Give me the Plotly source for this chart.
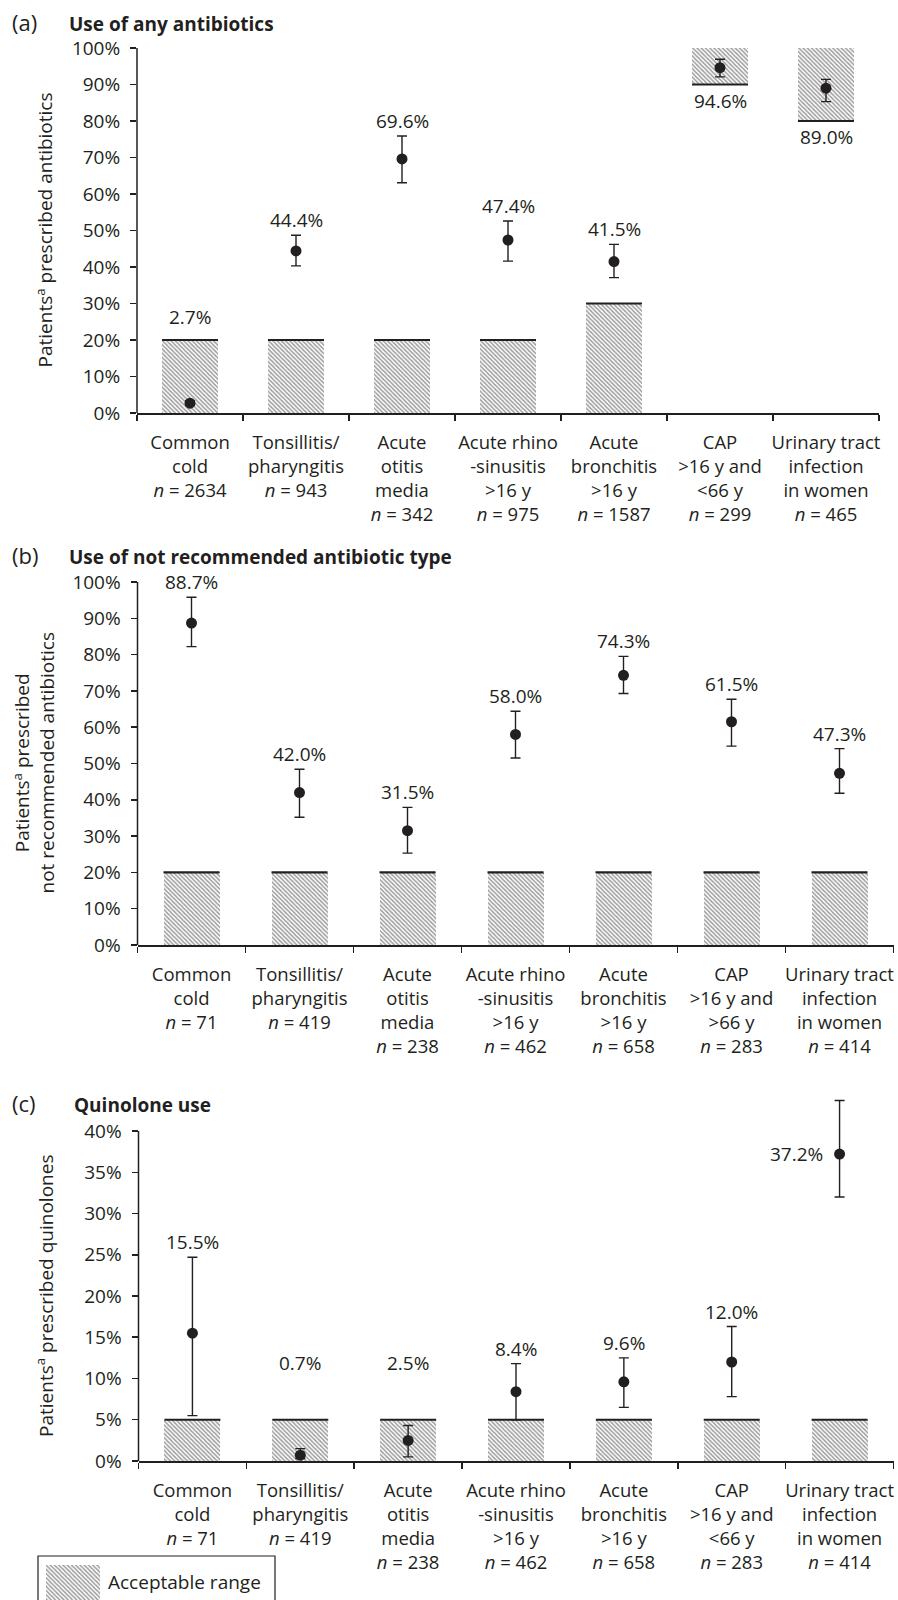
import plotly.graph_objects as go

# ---------------- data ----------------
categories_a = ["Common<br>cold", "Tonsillitis/<br>pharyngitis", "Acute<br>otitis<br>media",
                "Acute rhino<br>-sinusitis<br>&gt;16 y", "Acute<br>bronchitis<br>&gt;16 y",
                "CAP<br>&gt;16 y and<br>&lt;66 y", "Urinary tract<br>infection<br>in women"]
categories_b = ["Common<br>cold", "Tonsillitis/<br>pharyngitis", "Acute<br>otitis<br>media",
                "Acute rhino<br>-sinusitis<br>&gt;16 y", "Acute<br>bronchitis<br>&gt;16 y",
                "CAP<br>&gt;16 y and<br>&gt;66 y", "Urinary tract<br>infection<br>in women"]
categories_c = categories_a

n_a = [2634, 943, 342, 975, 1587, 299, 465]
n_b = [71, 419, 238, 462, 658, 283, 414]
n_c = [71, 419, 238, 462, 658, 283, 414]

# (a) use of any antibiotics
a_value = [2.7, 44.4, 69.6, 47.4, 41.5, 94.6, 89.0]
a_ci_low = [2.1, 40.3, 63.1, 41.6, 37.1, 92.1, 85.3]
a_ci_high = [3.4, 48.7, 75.9, 52.6, 46.2, 96.9, 91.4]
a_acc_low = [0, 0, 0, 0, 0, 90, 80]
a_acc_high = [20, 20, 20, 20, 30, 100, 100]

# (b) use of not recommended antibiotic type
b_value = [88.7, 42.0, 31.5, 58.0, 74.3, 61.5, 47.3]
b_ci_low = [82.2, 35.2, 25.3, 51.5, 69.3, 54.8, 41.8]
b_ci_high = [95.8, 48.4, 37.9, 64.4, 79.5, 67.7, 54.1]
b_acc_low = [0, 0, 0, 0, 0, 0, 0]
b_acc_high = [20, 20, 20, 20, 20, 20, 20]

# (c) quinolone use
c_value = [15.5, 0.7, 2.5, 8.4, 9.6, 12.0, 37.2]
c_ci_low = [5.5, 0.3, 0.5, 5.0, 6.5, 7.8, 32.0]
c_ci_high = [24.7, 1.5, 4.3, 11.8, 12.5, 16.3, 43.7]
c_acc_low = [0, 0, 0, 0, 0, 0, 0]
c_acc_high = [5, 5, 5, 5, 5, 5, 5]

panel_letters = ["(a)", "(b)", "(c)"]
panel_titles = ["Use of any antibiotics", "Use of not recommended antibiotic type", "Quinolone use"]
y_titles = ["Patients<sup>a</sup> prescribed antibiotics",
            "Patients<sup>a</sup> prescribed<br>not recommended antibiotics",
            "Patients<sup>a</sup> prescribed quinolones"]
y_max = [100, 100, 40]
y_step = [10, 10, 5]

# ---------------- style ----------------
INK = "#231f20"
FONT = "Open Sans"
W, H = 898, 1600
BAR_PX = 56
FS = 19
FS_X = 18.5


def px(x):
    return x / W


def py(y):
    return 1 - y / H


panel_xpx = [(137, 879), (137.5, 893.5), (138.5, 893.5)]
panel_px = [(48, 413), (582, 945), (1131, 1461)]
headroom = [0, 0, 4.5]   # data units above y_max kept visible (tall CI)
letter_y = [22, 555, 1103]
title_x = [67, 67, 72]
ytitle_x = [45, 34, 45]
inside_shift = [8, 6, 42]

panels = [
    (categories_a, n_a, a_value, a_ci_low, a_ci_high, a_acc_low, a_acc_high),
    (categories_b, n_b, b_value, b_ci_low, b_ci_high, b_acc_low, b_acc_high),
    (categories_c, n_c, c_value, c_ci_low, c_ci_high, c_acc_low, c_acc_high),
]

fig = go.Figure()
annotations = []
shapes = []
pattern = dict(shape="\\", fgcolor="#3a3a3a", bgcolor="white", size=3, solidity=0.5)

for p, (cats, ns, val, lo, hi, alo, ahi) in enumerate(panels):
    xa = "x" if p == 0 else f"x{p+1}"
    ya = "y" if p == 0 else f"y{p+1}"
    idx = list(range(len(cats)))
    left_px, right_px = panel_xpx[p]
    bar_w = BAR_PX / ((right_px - left_px) / len(cats))
    top_px, bot_px = panel_px[p]
    scale = (bot_px - top_px) / y_max[p]
    dom_top_px = top_px - headroom[p] * scale

    fig.add_trace(go.Bar(
        x=idx, y=[h - l for l, h in zip(alo, ahi)], base=alo, width=bar_w,
        marker=dict(color="white", pattern=pattern, line=dict(width=0)),
        xaxis=xa, yaxis=ya, showlegend=False, hoverinfo="skip"))

    lx, ly = [], []
    for j in idx:
        edge = ahi[j] if alo[j] == 0 else alo[j]
        lx += [j - bar_w / 2, j + bar_w / 2, None]
        ly += [edge, edge, None]
    fig.add_trace(go.Scatter(x=lx, y=ly, mode="lines", line=dict(color=INK, width=2.2),
                             xaxis=xa, yaxis=ya, showlegend=False, hoverinfo="skip"))

    fig.add_trace(go.Scatter(
        x=idx, y=val, mode="markers",
        marker=dict(color=INK, size=11),
        error_y=dict(type="data", symmetric=False,
                     array=[h - v for v, h in zip(val, hi)],
                     arrayminus=[v - l for v, l in zip(val, lo)],
                     color=INK, thickness=1.4, width=5),
        cliponaxis=False, xaxis=xa, yaxis=ya, showlegend=False))

    for j in idx:
        txt = f"{val[j]:.1f}%"
        fnt = dict(family=FONT, size=FS, color=INK)
        if alo[j] > 0:
            annotations.append(dict(x=j, y=alo[j], xref=xa, yref=ya, text=txt, showarrow=False,
                                    yanchor="top", yshift=-1, font=fnt))
        elif hi[j] > y_max[p]:
            annotations.append(dict(x=j, y=val[j], xref=xa, yref=ya, text=txt, showarrow=False,
                                    xanchor="right", xshift=-15, font=fnt))
        elif val[j] < ahi[j]:
            annotations.append(dict(x=j, y=max(hi[j], ahi[j]), xref=xa, yref=ya, text=txt,
                                    showarrow=False, yanchor="bottom", yshift=inside_shift[p], font=fnt))
        else:
            annotations.append(dict(x=j, y=hi[j], xref=xa, yref=ya, text=txt, showarrow=False,
                                    yanchor="bottom", yshift=0, font=fnt))

    ticktext = [f"{c}<br><i>n</i> = {n}" for c, n in zip(cats, ns)]
    yt = list(range(0, y_max[p] + 1, y_step[p]))
    xkey = "xaxis" if p == 0 else f"xaxis{p+1}"
    ykey = "yaxis" if p == 0 else f"yaxis{p+1}"
    fig.update_layout(**{
        xkey: dict(domain=[px(left_px), px(right_px)], anchor=ya, range=[-0.5, len(cats) - 0.5],
                   automargin=False,
                   tickmode="array", tickvals=idx, ticktext=ticktext, ticks="",
                   showline=True, linecolor=INK, linewidth=2, showgrid=False, zeroline=False,
                   tickfont=dict(family=FONT, size=FS_X, color=INK), ticklabelstandoff=12,
                   minor=dict(tickmode="linear", tick0=-0.5, dtick=1, ticks="outside",
                              ticklen=6, tickwidth=1.5, tickcolor=INK, showgrid=False),
                   fixedrange=True),
        ykey: dict(domain=[py(bot_px), py(dom_top_px)], anchor=xa,
                   range=[0, y_max[p] + headroom[p]], automargin=False,
                   tickmode="array", tickvals=yt, ticktext=[f"{v}%" for v in yt],
                   ticks="outside", ticklen=6, tickwidth=1.5, tickcolor=INK,
                   showline=False, showgrid=False, zeroline=False,
                   tickfont=dict(family=FONT, size=FS, color=INK), ticklabelstandoff=6,
                   fixedrange=True),
    })
    shapes.append(dict(type="line", xref=f"{xa} domain", yref=ya, x0=0, x1=0, y0=0, y1=y_max[p],
                       line=dict(color=INK, width=1.5)))

    annotations.append(dict(x=px(10), y=py(letter_y[p]), xref="paper", yref="paper",
                            text=panel_letters[p], showarrow=False, xanchor="left", yanchor="middle",
                            font=dict(family=FONT, size=22, color=INK)))
    annotations.append(dict(x=px(title_x[p]), y=py(letter_y[p] + 2), xref="paper", yref="paper",
                            text=f"<b>{panel_titles[p]}</b>", showarrow=False, xanchor="left",
                            yanchor="middle", font=dict(family=FONT, size=19, color=INK)))
    annotations.append(dict(x=px(ytitle_x[p]), y=py((top_px + bot_px) / 2), xref="paper", yref="paper",
                            text=y_titles[p], showarrow=False, textangle=-90,
                            xanchor="center", yanchor="middle",
                            font=dict(family=FONT, size=FS, color=INK)))

# legend patch on its own small axes
fig.add_trace(go.Bar(x=[0], y=[1], width=1, base=0,
                     marker=dict(color="white", pattern=pattern, line=dict(width=0)),
                     xaxis="x4", yaxis="y4", showlegend=False, hoverinfo="skip"))
fig.update_layout(
    xaxis4=dict(domain=[px(46), px(100)], range=[-0.5, 0.5], visible=False, anchor="y4",
                fixedrange=True, automargin=False),
    yaxis4=dict(domain=[py(1600), py(1565)], range=[0, 1], visible=False, anchor="x4",
                fixedrange=True, automargin=False),
)
annotations.append(dict(x=px(106), y=py(1582), xref="paper", yref="paper", text="Acceptable range",
                        showarrow=False, xanchor="left", yanchor="middle",
                        font=dict(family=FONT, size=FS, color=INK)))
shapes.append(dict(type="rect", xref="paper", yref="paper", x0=px(38), x1=px(275),
                   y0=py(1640), y1=py(1556), line=dict(color=INK, width=1.2),
                   fillcolor="rgba(0,0,0,0)"))

fig.update_layout(
    width=W, height=H, margin=dict(l=0, r=0, t=0, b=0, pad=0, autoexpand=False),
    paper_bgcolor="white", plot_bgcolor="white",
    annotations=annotations, shapes=shapes,
    bargap=0, showlegend=False, hovermode=False,
)

fig.write_html(
    "out.html",
    config={"displayModeBar": False, "staticPlot": True},
    post_script="document.body.style.margin='0px';"
                "document.documentElement.style.overflow='hidden';",
)
